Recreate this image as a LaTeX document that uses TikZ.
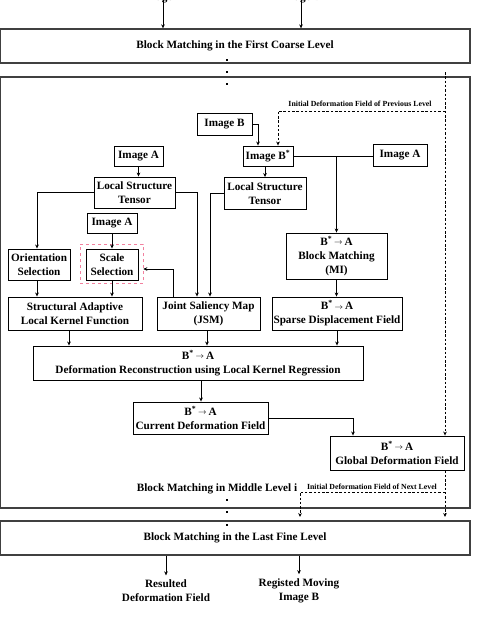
\documentclass[tikz,border=0pt]{standalone}
\usepackage{fontspec}
\setmainfont{Liberation Serif}
\usetikzlibrary{arrows.meta,calc}
\newcommand{\BtoA}{B\textsuperscript{*}\,\raisebox{0.6pt}{$\scriptstyle\rightarrow$}\,A}
\definecolor{pinkd}{HTML}{F2809E}
\definecolor{lvlgray}{HTML}{404040}
\tikzset{
  txt/.style={font=\bfseries\fontsize{11.2}{14}\selectfont, align=center, inner sep=0pt},
  box/.style={txt, draw, line width=0.9pt},
  lvl/.style={txt, draw=lvlgray, line width=1.3pt, minimum width=470pt, minimum height=34pt},
  small/.style={font=\bfseries\fontsize{7.8}{9}\selectfont, inner sep=0pt},
  arr/.style={line width=0.8pt, -{Stealth[length=4pt,width=3.6pt]}},
  ln/.style={line width=0.8pt},
  darr/.style={line width=0.7pt, dash pattern=on 2.5pt off 1.8pt, -{Stealth[length=4pt,width=3.6pt]}},
}
\begin{document}
\begin{tikzpicture}[x=1pt,y=-1pt]
\useasboundingbox (0,0) rectangle (485,627);
% level boxes
\node[txt] (inA) at (163,-1.5) {Image A};
\node[txt] (inB) at (301,-1.5) {Image B};
\node[lvl] (lvl1) at (235,46) {Block Matching in the First Coarse Level};
\node[draw=lvlgray, line width=1.3pt, minimum width=470pt, minimum height=431pt, inner sep=0pt] (mid) at (235,292.5) {};
\node[lvl] (lvl3) at (235,538) {Block Matching in the Last Fine Level};
\draw[arr] ([yshift=9pt]inA.center) -- (inA |- lvl1.north);
\draw[arr] ([yshift=9pt]inB.center) -- (inB |- lvl1.north);
% dots
\foreach \yy in {60,72,84,500,512,525} \fill (225.8,\yy-1.2) rectangle (228.2,\yy+1.2);
% inner nodes
\node[box, minimum width=55pt, minimum height=22pt] (imgB) at (224.5,124) {Image B};
\node[box, minimum width=50pt, minimum height=20pt] (imgBs) at (268,156) {Image B\textsuperscript{*}};
\node[box, minimum width=54pt, minimum height=22pt] (imgAr) at (400,155) {Image A};
\node[box, minimum width=82pt, minimum height=32pt] (lstr) at (265,193.5) {Local Structure\\Tensor};
\node[box, minimum width=49pt, minimum height=20pt] (imgAl) at (138.5,156) {Image A};
\node[box, minimum width=81pt, minimum height=31pt] (lstl) at (134.5,192.5) {Local Structure\\Tensor};
\node[box, minimum width=50pt, minimum height=20pt] (imgAm) at (112,223) {Image A};
\node[box, minimum width=62pt, minimum height=31pt] (orient) at (39,264.5) {Orientation\\Selection};
\node[box, minimum width=52pt, minimum height=31pt] (scale) at (112,264.5) {Scale\\Selection};
\node[draw=pinkd, dashed, line width=0.6pt, minimum width=63pt, minimum height=39pt, inner sep=0pt] (pink) at (111.5,263.5) {};
\node[box, minimum width=134pt, minimum height=33pt] (salkf) at (75,313.5) {Structural Adaptive\\Local Kernel Function};
\node[box, minimum width=103pt, minimum height=33pt] (jsm) at (208.5,313.5) {Joint Saliency Map\\(JSM)};
\node[box, minimum width=101pt, minimum height=46pt] (mi) at (336.5,256) {\BtoA\\Block Matching\\(MI)};
\node[box, minimum width=130pt, minimum height=33pt] (sdf) at (337,313.5) {\BtoA\\Sparse Displacement Field};
\node[box, minimum width=330pt, minimum height=34pt] (dr) at (198,363) {\BtoA\\Deformation Reconstruction using Local Kernel Regression};
\node[box, minimum width=135pt, minimum height=32pt] (cdf) at (200.5,418) {\BtoA\\Current Deformation Field};
\node[box, minimum width=134pt, minimum height=34pt] (gdf) at (397,453) {\BtoA\\Global Deformation Field};
\node[txt] (midlbl) at (217,489) {Block Matching in Middle Level i};
\node[small] (prevlbl) at (360,104) {Initial Deformation Field of Previous Level};
\node[small] (nextlbl) at (372,487) {Initial Deformation Field of Next Level};
\node[txt] (outD) at (166,590.5) {Resulted\\Deformation Field};
\node[txt] (outB) at (299,590.5) {Registed Moving\\Image B};
% coordinates
\coordinate (dtop) at (445,72);
\coordinate (prevj) at (445,111);
\coordinate (nextj) at (445,492);
\coordinate (endR) at (445,517);
\coordinate (endL) at (300,517);
% connectors
\draw[arr] (imgB.east) -| ([xshift=-10pt]imgBs.north);
\draw[darr] (prevj) -| ([xshift=10pt]imgBs.north);
\draw[darr] (dtop) -- (dtop |- gdf.north);
\draw[ln] (imgBs.east) -- (imgAr.west |- imgBs.east);
\draw[arr] (imgBs.east -| mi.north) -- (mi.north);
\draw[arr] (imgBs.south -| lstr.north) -- (lstr.north);
\draw[arr] (imgAl.south) -- (imgAl.south |- lstl.north);
\draw[arr] (lstl.west) -| ([xshift=-2pt]orient.north);
\draw[arr] (lstl.east) -| ([xshift=-11.5pt]jsm.north);
\draw[arr] (lstr.west) -| ([xshift=1.5pt]jsm.north);
\draw[arr] (imgAm.south) -- (scale.north);
\draw[arr] ([xshift=-35.5pt]jsm.north) |- ([yshift=-5.5pt]pink.east);
\draw[arr] ([xshift=-2pt]orient.south) -- ([xshift=-2pt]orient.south |- salkf.north);
\draw[arr] (scale.south) -- (scale.south |- salkf.north);
\draw[arr] (mi.south) -- (mi.south |- sdf.north);
\draw[arr] ([xshift=-6pt]salkf.south) -- ([xshift=-6pt]salkf.south |- dr.north);
\draw[arr] ([xshift=-1.5pt]jsm.south) -- ([xshift=-1.5pt]jsm.south |- dr.north);
\draw[arr] (sdf.south) -- (sdf.south |- dr.north);
\draw[arr] ([xshift=3pt]dr.south) -- ([xshift=3pt]dr.south |- cdf.north);
\draw[arr] (cdf.east) -| ([xshift=-44pt]gdf.north);
\draw[darr] (gdf.south -| dtop) -- (endR);
\draw[darr] (nextj) -| (endL);
\draw[arr] (lvl3.south -| outD) -- ([yshift=4pt]outD.north);
\draw[arr] (lvl3.south -| outB) -- ([yshift=4pt]outB.north);
\end{tikzpicture}
\end{document}
